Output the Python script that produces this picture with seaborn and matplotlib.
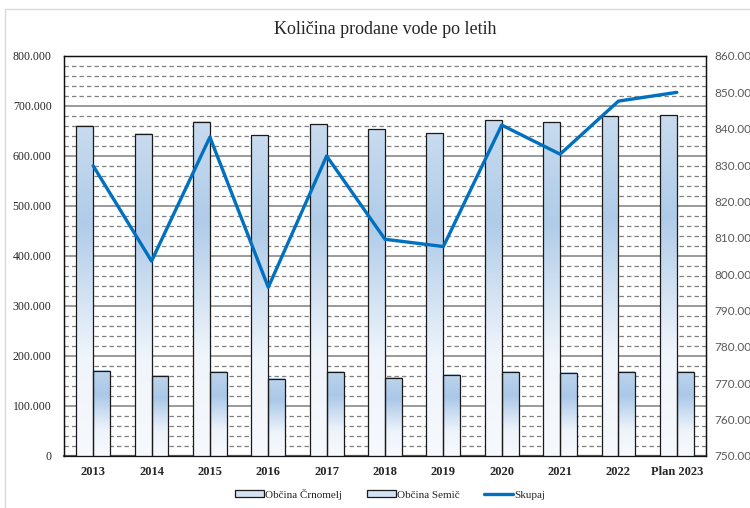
import numpy as np
import pandas as pd
import matplotlib
matplotlib.use("Agg")
import matplotlib.pyplot as plt
import seaborn as sns
from matplotlib.colors import LinearSegmentedColormap
from matplotlib.patches import Patch, Rectangle
from matplotlib.lines import Line2D
from matplotlib.ticker import MultipleLocator, FuncFormatter

# data
years = ["2013", "2014", "2015", "2016", "2017", "2018", "2019", "2020", "2021", "2022", "Plan 2023"]
crnomelj = [660000, 644000, 668000, 641000, 663000, 653000, 645000, 671000, 667000, 679000, 681000]
semic = [171000, 161000, 169000, 155000, 169000, 157000, 163000, 169000, 167000, 169000, 169000]
skupaj = [829800, 803600, 837700, 796400, 832500, 809600, 807600, 841000, 833000, 847600, 850000]

df = pd.DataFrame({
    "leto": years * 2,
    "kolicina": crnomelj + semic,
    "obcina": ["Občina Črnomelj"] * len(years) + ["Občina Semič"] * len(years),
})

sns.set_style("white")
plt.rcParams["font.family"] = ["Liberation Serif", "DejaVu Serif"]

fig = plt.figure(figsize=(7.5, 5.08), dpi=100)
ax = fig.add_axes([64 / 750, 1 - 456 / 508, 642 / 750, 400 / 508])

sns.barplot(data=df, x="leto", y="kolicina", hue="obcina", ax=ax, width=0.58,
            palette=["#b0cce9", "#b0cce9"], edgecolor="#1a1a1a", linewidth=0.9,
            legend=False, zorder=3)

# gradient fill for each bar
cm_c = LinearSegmentedColormap.from_list("c", [(0, "#f6f9fd"), (0.3, "#f0f5fb"), (0.7, "#b0cce9"), (1, "#c8dbef")])
cm_s = LinearSegmentedColormap.from_list("s", [(0, "#f6f9fd"), (0.3, "#eff4fb"), (0.72, "#aac8e8"), (1, "#bdd4ec")])
grad = np.linspace(0, 1, 256).reshape(-1, 1)
n = len(years)
for i, p in enumerate(ax.patches[:2 * n]):
    cm = cm_c if i < n else cm_s
    x0, w, h = p.get_x(), p.get_width(), p.get_height()
    im = ax.imshow(grad, cmap=cm, aspect="auto", origin="lower",
                   extent=[x0, x0 + w, 0, h], zorder=3.5, interpolation="bilinear")
    p.set_facecolor("none")
    p.set_zorder(4)

ax.set_xlim(-0.5, n - 0.5)
ax.set_ylim(0, 800000)
ax.yaxis.set_major_locator(MultipleLocator(100000))
ax.yaxis.set_minor_locator(MultipleLocator(20000))
ax.yaxis.set_major_formatter(FuncFormatter(lambda v, _: "0" if v == 0 else f"{v:,.0f}".replace(",", ".")))
ax.grid(which="major", axis="y", color="#7f7f7f", linewidth=1.1, linestyle="-")
ax.grid(which="minor", axis="y", color="#7f7f7f", linewidth=0.9, linestyle=(0, (3.5, 2.5)))
ax.set_axisbelow(True)
ax.tick_params(axis="y", which="both", length=0, pad=9, labelsize=8.5)
ax.tick_params(axis="x", length=0, pad=7)
for lab in ax.get_xticklabels():
    lab.set_fontweight("bold")
    lab.set_fontsize(9)
ax.set_xlabel("")
ax.set_ylabel("")
for s in ax.spines.values():
    s.set_visible(True)
    s.set_color("#111111")
    s.set_linewidth(1)
ax.spines["bottom"].set_color("#555555")
ax.spines["bottom"].set_linewidth(1.6)

ax2 = ax.twinx()
sns.lineplot(x=np.arange(n), y=skupaj, ax=ax2, color="#0070c0", linewidth=2.4, zorder=5)
ax2.set_ylim(750000, 860000)
ax2.yaxis.set_major_locator(MultipleLocator(10000))
ax2.yaxis.set_major_formatter(FuncFormatter(lambda v, _: f"{v:,.0f}".replace(",", ".")))
ax2.tick_params(axis="y", length=0, pad=6, labelsize=8.5, labelcolor="#595959")
for lab in ax2.get_yticklabels():
    lab.set_family(["Lato", "DejaVu Sans"])
for s in ax2.spines.values():
    s.set_color("#111111")
ax2.set_xlim(-0.5, n - 0.5)

fig.text(385 / 750, 1 - 30 / 508, "Količina prodane vode po letih", ha="center", va="center", fontsize=13)

handles = [
    Patch(facecolor="#d3e2f3", edgecolor="#1a1a1a", linewidth=0.9, label="Občina Črnomelj"),
    Patch(facecolor="#d3e2f3", edgecolor="#1a1a1a", linewidth=0.9, label="Občina Semič"),
    Line2D([0], [0], color="#0070c0", linewidth=2.4, label="Skupaj"),
]
fig.legend(handles=handles, loc="center", bbox_to_anchor=(390 / 750, 1 - 494 / 508), ncol=3,
           frameon=False, fontsize=8, handlelength=2.6, handleheight=0.5, handletextpad=0.1,
           columnspacing=2.2)

fig.add_artist(Rectangle((5 / 750, -0.05), 1.0, 1 - 9 / 508 + 0.05, transform=fig.transFigure,
                         fill=False, edgecolor="#d9d9d9", linewidth=1))

fig.savefig("out.png", dpi=100)
